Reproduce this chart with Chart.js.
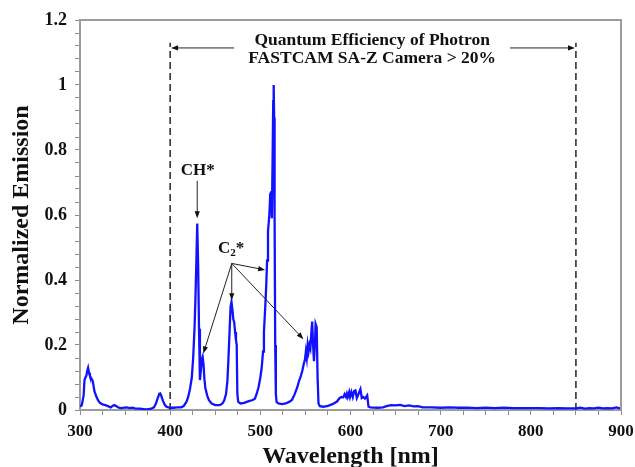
<!DOCTYPE html>
<html>
<head>
<meta charset="utf-8">
<script src="https://cdn.jsdelivr.net/npm/chart.js@4.4.1/dist/chart.umd.min.js"></script>
<style>
  html, body { margin: 0; padding: 0; background: #fff; }
</style>
</head>
<body>
<canvas id="chartEmissao" width="635" height="467"></canvas>
<script>
/* espectro de emissao da chama normalizado */

const wavelength = [
    300, 302, 304, 305, 306, 307, 308, 309, 310, 311, 312, 313, 314, 315, 316, 318, 320, 322, 325, 328,
    331, 334, 336, 338, 340, 343, 346, 349, 352, 355, 358, 361, 364, 367, 370, 373, 376, 379, 382, 384,
    386, 388, 389, 390, 392, 394, 396, 398, 400, 404, 408, 412, 415, 418, 420, 422, 424, 425.5, 427, 428,
    429, 430, 431, 432, 433, 434, 435, 436, 437, 438, 439, 441, 443, 446, 450, 455, 458, 460, 462, 463.5,
    464.5, 466, 467, 468, 469, 470, 471, 472, 473, 473.8, 474.5, 475.5, 478, 482, 485, 488, 491, 494, 496, 498,
    500, 501.5, 503, 504, 505.5, 506.5, 507.5, 508.5, 510, 511, 512, 512.8, 513.5, 514.3, 514.8, 515.3, 515.8, 516.5, 517.2, 518,
    520, 524, 528, 532, 535, 538, 541, 543, 545, 546.5, 548, 549.5, 550.5, 551.5, 552.5, 553.5, 554.5, 555.5, 556.5, 557.5,
    558.5, 559.5, 560.5, 561.3, 562.5, 563.5, 564.5, 566, 570, 575, 580, 585, 588, 590, 592, 593.5, 595, 596, 597, 598.5,
    599.5, 601, 602.5, 604, 605.5, 607, 609, 611, 612.5, 614, 616, 618.5, 620, 622, 630, 636, 640, 645, 650, 655,
    660, 665, 670, 675, 680, 690, 700, 710, 720, 730, 740, 750, 760, 770, 780, 790, 800, 810, 820, 830,
    840, 850, 855, 860, 865, 870, 875, 880, 885, 890, 895, 900
];

const emission = [
    0.010, 0.015, 0.045, 0.092, 0.100, 0.105, 0.120, 0.130, 0.115, 0.105, 0.100, 0.095, 0.090, 0.075, 0.058, 0.042, 0.030, 0.022, 0.017, 0.015,
    0.012, 0.008, 0.012, 0.015, 0.012, 0.007, 0.006, 0.007, 0.008, 0.006, 0.007, 0.005, 0.004, 0.004, 0.003, 0.002, 0.003, 0.004, 0.008, 0.018,
    0.035, 0.050, 0.051, 0.045, 0.028, 0.016, 0.010, 0.008, 0.007, 0.007, 0.008, 0.008, 0.012, 0.025, 0.040, 0.065, 0.100, 0.160, 0.250, 0.340,
    0.450, 0.574, 0.450, 0.250, 0.092, 0.120, 0.155, 0.164, 0.140, 0.095, 0.068, 0.045, 0.030, 0.020, 0.015, 0.015, 0.020, 0.030, 0.050, 0.090,
    0.150, 0.250, 0.318, 0.333, 0.310, 0.280, 0.270, 0.240, 0.215, 0.200, 0.050, 0.025, 0.020, 0.022, 0.025, 0.028, 0.030, 0.035, 0.050, 0.070,
    0.100, 0.130, 0.180, 0.240, 0.320, 0.380, 0.460, 0.550, 0.600, 0.665, 0.670, 0.590, 0.750, 0.950, 1.000, 0.900, 0.600, 0.200, 0.050, 0.025,
    0.020, 0.018, 0.020, 0.025, 0.031, 0.048, 0.070, 0.090, 0.105, 0.120, 0.140, 0.155, 0.180, 0.160, 0.200, 0.180, 0.200, 0.190, 0.235, 0.272,
    0.200, 0.150, 0.200, 0.265, 0.255, 0.100, 0.020, 0.012, 0.010, 0.013, 0.018, 0.026, 0.037, 0.040, 0.039, 0.049, 0.040, 0.050, 0.040, 0.055,
    0.040, 0.055, 0.040, 0.058, 0.060, 0.037, 0.050, 0.064, 0.037, 0.040, 0.035, 0.045, 0.010, 0.008, 0.007, 0.008, 0.012, 0.015, 0.014, 0.016,
    0.012, 0.014, 0.011, 0.012, 0.008, 0.008, 0.007, 0.008, 0.007, 0.007, 0.006, 0.007, 0.006, 0.007, 0.006, 0.006, 0.006, 0.006, 0.005, 0.006,
    0.005, 0.005, 0.007, 0.004, 0.006, 0.005, 0.007, 0.005, 0.006, 0.005, 0.008, 0.004
];

// limites da faixa de eficiencia quantica da camera (nm)
const qeLimits = [400, 850];
const qeTop = 1.13;

const xRange = [300, 900];
const yRange = [0, 1.2];
const xMajor = 100, xMinor = 25;
const yMajor = 0.2, yMinor = 0.04;

const serif = "'Liberation Serif', 'Times New Roman', serif";

function drawArrow(ctx, x1, y1, x2, y2) {
    const ang = Math.atan2(y2 - y1, x2 - x1);
    const len = 7, half = 2.6;
    ctx.beginPath();
    ctx.moveTo(x1, y1);
    ctx.lineTo(x2 - Math.cos(ang) * len * 0.8, y2 - Math.sin(ang) * len * 0.8);
    ctx.stroke();
    ctx.beginPath();
    ctx.moveTo(x2, y2);
    ctx.lineTo(x2 - Math.cos(ang) * len - Math.sin(ang) * half, y2 - Math.sin(ang) * len + Math.cos(ang) * half);
    ctx.lineTo(x2 - Math.cos(ang) * len + Math.sin(ang) * half, y2 - Math.sin(ang) * len - Math.cos(ang) * half);
    ctx.closePath();
    ctx.fill();
}

// moldura superior/direita + textos e setas
const anotacoesPlugin = {
    id: 'anotacoes',
    afterDraw(chart) {
        const { ctx, chartArea: a, scales: { x, y } } = chart;
        const px = v => x.getPixelForValue(v);
        const py = v => y.getPixelForValue(v);
        ctx.save();

        ctx.strokeStyle = '#9c9c9c';
        ctx.lineWidth = 2;
        ctx.beginPath();
        ctx.moveTo(a.left, a.top);
        ctx.lineTo(a.right, a.top);
        ctx.lineTo(a.right, a.bottom);
        ctx.stroke();

        ctx.fillStyle = '#111';
        ctx.strokeStyle = '#222';
        ctx.lineWidth = 1;
        ctx.textBaseline = 'middle';
        ctx.textAlign = 'center';
        ctx.font = 'bold 17.5px ' + serif;
        ctx.fillText('Quantum Efficiency of Photron', px(624), py(1.138));
        ctx.fillText('FASTCAM SA-Z Camera > 20%', px(624), py(1.083));
        drawArrow(ctx, px(471), py(1.114), px(401), py(1.114));
        drawArrow(ctx, px(777), py(1.114), px(849), py(1.114));

        ctx.font = 'bold 17px ' + serif;
        ctx.fillText('CH*', px(430.5), py(0.738));
        drawArrow(ctx, px(430), py(0.705), px(430), py(0.59));

        // C2* com subscrito
        ctx.textAlign = 'left';
        const cx = px(453), cy = py(0.498);
        ctx.fillText('C', cx, cy);
        const wC = ctx.measureText('C').width;
        ctx.font = 'bold 11px ' + serif;
        ctx.fillText('2', cx + wC, cy + 5);
        const w2 = ctx.measureText('2').width;
        ctx.font = 'bold 17px ' + serif;
        ctx.fillText('*', cx + wC + w2, cy);

        const ox = px(468.3), oy = py(0.451);
        drawArrow(ctx, ox, oy, px(436.8), py(0.174));
        drawArrow(ctx, ox, oy, px(468.3), py(0.338));
        drawArrow(ctx, ox, oy, px(505.3), py(0.431));
        drawArrow(ctx, ox, oy, px(547.8), py(0.218));

        ctx.restore();
    }
};

const spectrumPoints = wavelength.map((w, i) => ({ x: w, y: emission[i] }));

const ctx = document.getElementById('chartEmissao').getContext('2d');
const emissaoChart = new Chart(ctx, {
    type: 'line',
    data: {
        datasets: [
            {
                label: 'Emission',
                data: spectrumPoints,
                borderColor: '#1212ff',
                borderWidth: 2.3,
                pointRadius: 0,
                tension: 0,
                fill: false
            },
            {
                label: 'QE min',
                data: [{ x: qeLimits[0], y: 0 }, { x: qeLimits[0], y: qeTop }],
                borderColor: '#333',
                borderWidth: 1.6,
                borderDash: [7, 4],
                pointRadius: 0
            },
            {
                label: 'QE max',
                data: [{ x: qeLimits[1], y: 0 }, { x: qeLimits[1], y: qeTop }],
                borderColor: '#333',
                borderWidth: 1.6,
                borderDash: [7, 4],
                pointRadius: 0
            }
        ]
    },
    options: {
        responsive: false,
        devicePixelRatio: 1,
        animation: false,
        layout: { autoPadding: false, padding: { top: 20, right: 14, left: 0, bottom: 0 } },
        plugins: {
            legend: { display: false },
            tooltip: { enabled: false }
        },
        scales: {
            x: {
                type: 'linear',
                min: xRange[0],
                max: xRange[1],
                afterFit: s => { s.height = 57; s.paddingLeft = 0; s.paddingRight = 0; },
                border: { display: true, color: '#9c9c9c', width: 2 },
                grid: { drawOnChartArea: false, drawTicks: true, tickLength: 5, tickColor: '#8c8c8c' },
                ticks: {
                    stepSize: xMinor,
                    maxTicksLimit: 100,
                    autoSkip: false,
                    maxRotation: 0,
                    padding: 6,
                    color: '#111',
                    font: { family: serif, size: 17, weight: 'bold' },
                    callback: v => (v % xMajor === 0 ? v : '')
                },
                title: {
                    display: true,
                    text: 'Wavelength [nm]',
                    color: '#111',
                    padding: { top: 0, bottom: 0 },
                    font: { family: serif, size: 24, weight: 'bold', lineHeight: 0.85 }
                }
            },
            y: {
                min: yRange[0],
                max: yRange[1],
                afterFit: s => { s.width = 80; s.paddingTop = 0; s.paddingBottom = 0; },
                border: { display: true, color: '#9c9c9c', width: 2 },
                grid: { drawOnChartArea: false, drawTicks: true, tickLength: 5, tickColor: '#8c8c8c' },
                ticks: {
                    stepSize: yMinor,
                    maxTicksLimit: 100,
                    autoSkip: false,
                    padding: 8,
                    color: '#111',
                    font: { family: serif, size: 18, weight: 'bold' },
                    callback: v => {
                        const k = v / yMajor;
                        return Math.abs(k - Math.round(k)) < 1e-6 ? String(+v.toFixed(1)) : '';
                    }
                },
                title: {
                    display: true,
                    text: 'Normalized Emission',
                    color: '#111',
                    padding: { top: 10, bottom: 0 },
                    font: { family: serif, size: 24, weight: 'bold', lineHeight: 1 }
                }
            }
        }
    },
    plugins: [anotacoesPlugin]
});
</script>
</body>
</html>
